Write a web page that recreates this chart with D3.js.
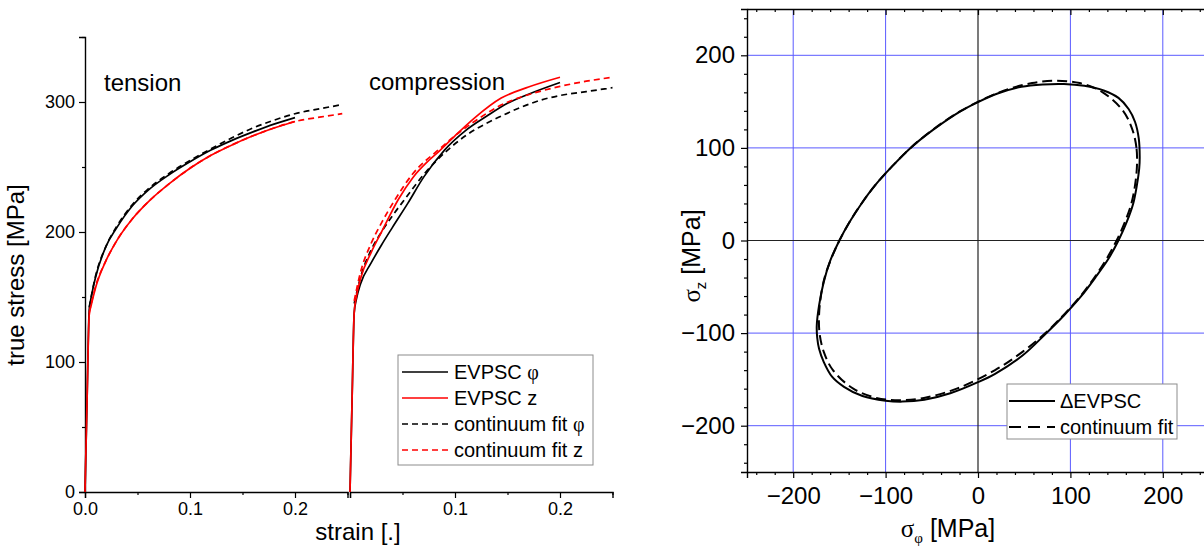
<!DOCTYPE html>
<html>
<head>
<meta charset="utf-8">
<script src="https://cdn.jsdelivr.net/npm/d3@7"></script>
<style>
  body { margin: 0; background: #fff; }
  svg { display: block; font-family: "Liberation Sans", Arial, sans-serif; }
</style>
</head>
<body>
<svg id="chart" width="1204" height="546"></svg>
<script>
// ---- left panel: stress-strain curves ----
const stressTicks = [0, 100, 200, 300];
const stressMinor = [50, 150, 250, 350];
const strainTicksT = [0, 0.1, 0.2];
const strainTicksC = [0, 0.1, 0.2];
const strainMinor = [0.05, 0.15, 0.25];

// tension
const tenStrain = [0, 0.002, 0.004, 0.006, 0.01, 0.02, 0.03, 0.045, 0.06, 0.08, 0.1, 0.12, 0.14, 0.16, 0.18, 0.2];
const tenEvpscPhi = [0, 72, 140, 150, 165, 189, 203, 220, 232, 244, 254, 263, 270.5, 277, 283, 288];
const tenEvpscZ = [0, 72, 136, 144, 157, 178, 193, 210, 223, 237, 249, 259, 267, 274, 280, 285];
const tenFitStrain = [0.004, 0.01, 0.02, 0.03, 0.045, 0.06, 0.08, 0.1, 0.12, 0.14, 0.16, 0.18, 0.2, 0.225, 0.245];
const tenFitPhi = [142, 166, 189, 204, 221, 233, 245, 255, 264, 272.5, 280, 286, 291, 295, 298];
const tenFitZ = [138, 158, 178, 193, 210, 223, 237, 249, 259, 267, 274, 280, 285, 288.5, 291];

// compression
const compStrainPhi = [0, 0.002, 0.004, 0.006, 0.01, 0.02, 0.03, 0.04, 0.055, 0.07, 0.09, 0.11, 0.13, 0.15, 0.17, 0.2];
const compEvpscPhi = [0, 72, 138, 148, 160, 176, 190, 203, 222, 242, 263, 278, 289, 299, 306, 315];
const compStrainZ = [0, 0.002, 0.004, 0.006, 0.01, 0.02, 0.03, 0.046, 0.06, 0.075, 0.086, 0.1, 0.119, 0.144, 0.17, 0.2];
const compEvpscZ = [0, 72, 138, 150, 164, 184, 200, 225, 242, 255, 263, 274, 288, 303, 311.5, 319];
const compFitStrainPhi = [0.004, 0.01, 0.02, 0.03, 0.04, 0.052, 0.07, 0.093, 0.11, 0.141, 0.16, 0.182, 0.2, 0.225, 0.25];
const compFitPhi = [145, 165, 186, 200, 212, 225, 244, 263, 274, 288, 295, 301.5, 305, 308, 311];
const compFitStrainZ = [0.004, 0.01, 0.02, 0.03, 0.043, 0.06, 0.084, 0.1, 0.124, 0.14, 0.16, 0.18, 0.2, 0.225, 0.25];
const compFitZ = [147, 169, 191, 207, 225, 245, 263, 274, 288, 296, 303, 308, 312, 316, 319];

const legendLeft = ["EVPSC φ", "EVPSC z", "continuum fit φ", "continuum fit z"];

// ---- right panel: yield locus ----
const sigTicks = [-200, -100, 0, 100, 200];
const sigGrid = [-200, -100, 100, 200];
const sigMinor = [-240, -220, -180, -160, -140, -120, -80, -60, -40, -20, 20, 40, 60, 80, 120, 140, 160, 180, 220, 240];

const evpscPhi = [175, 174, 170, 163, 152, 136, 115, 93, 70, 47, 22, 0, -20, -48, -73, -93, -111, -126, -139, -150, -160, -167, -172, -174.5, -174, -172, -167, -158, -145, -125, -100, -82, -58, -30, 0, 18.5, 48.5, 73, 93, 111, 127, 141, 152, 161, 168, 172, 174.5];
const evpscZ = [90, 110, 128, 142, 154, 162, 167, 169, 168.5, 166, 159, 149.5, 139, 120, 100, 80, 60, 40, 20, 0, -22, -45, -70, -92, -105, -117, -131, -147, -158, -168, -173, -174, -172, -165, -153, -144, -124, -101, -81, -61, -40, -20, 0, 20, 40, 60, 78];
const fitPhi = [172, 171.5, 167, 157, 135, 110, 85, 58.5, 23, -18.5, -48.5, -73, -93, -111, -126, -139, -150, -159, -166, -170, -172, -171.5, -167, -157, -135, -110, -85, -58.5, -23, 18.5, 48.5, 73, 93, 111, 126, 139, 150, 159, 166, 170];
const fitZ = [80, 100, 120, 140, 160, 170, 172.5, 170, 160, 140, 120, 100, 80, 60, 40, 20, 0, -20, -40, -60, -80, -100, -120, -140, -160, -170, -172.5, -170, -160, -140, -120, -100, -80, -60, -40, -20, 0, 20, 40, 60];

const legendRight = ["ΔEVPSC", "continuum fit"];

const font = "Liberation Sans, Arial, sans-serif";
const svg = d3.select("#chart");

function zip(a, b) { return a.map((v, i) => [v, b[i]]); }

function styleAxis(g, size) {
  g.attr("font-size", size).attr("font-family", font);
  g.selectAll("line").attr("stroke", "#000").attr("stroke-width", 1.2);
  g.selectAll("path.domain").attr("stroke", "#000").attr("stroke-width", 1.4);
  g.selectAll("text").attr("fill", "#000");
}

// ===== left panel =====
const y = d3.scaleLinear().domain([0, 350]).range([492, 37]);
const xT = d3.scaleLinear().domain([0, 0.25]).range([85, 347.5]);
const xC = d3.scaleLinear().domain([0, 0.25]).range([350, 612.5]);

svg.append("g").attr("transform", "translate(85,0)")
  .call(d3.axisLeft(y).tickValues(stressTicks).tickSize(6).tickPadding(4).tickFormat(d3.format("d")))
  .call(g => styleAxis(g, 18));
svg.append("g").attr("transform", "translate(85,0)")
  .call(d3.axisLeft(y).tickValues(stressMinor).tickSize(3).tickFormat(""))
  .call(g => styleAxis(g, 18))
  .call(g => g.select(".domain").remove());

svg.append("g").attr("transform", "translate(0,492)")
  .call(d3.axisBottom(xT).tickValues(strainTicksT).tickSize(6).tickPadding(4).tickFormat(d3.format(".1f")))
  .call(g => styleAxis(g, 18));
svg.append("g").attr("transform", "translate(0,492)")
  .call(d3.axisBottom(xT).tickValues(strainMinor).tickSize(3).tickFormat(""))
  .call(g => styleAxis(g, 18))
  .call(g => g.select(".domain").remove());
svg.append("g").attr("transform", "translate(0,492)")
  .call(d3.axisBottom(xC).tickValues(strainTicksC).tickSize(6).tickPadding(4).tickFormat(d => d === 0 ? "" : d3.format(".1f")(d)))
  .call(g => styleAxis(g, 18));
svg.append("g").attr("transform", "translate(0,492)")
  .call(d3.axisBottom(xC).tickValues(strainMinor).tickSize(3).tickFormat(""))
  .call(g => styleAxis(g, 18))
  .call(g => g.select(".domain").remove());

svg.append("text").attr("x", 358).attr("y", 540).attr("text-anchor", "middle")
  .attr("font-size", 24).text("strain [.]");
svg.append("text").attr("transform", "translate(24,275) rotate(-90)").attr("text-anchor", "middle")
  .attr("font-size", 24).text("true stress [MPa]");
svg.append("text").attr("x", 104).attr("y", 91).attr("font-size", 24).text("tension");
svg.append("text").attr("x", 369).attr("y", 90).attr("font-size", 24).text("compression");

const lineT = d3.line().x(d => xT(d[0])).y(d => y(d[1])).curve(d3.curveMonotoneX);
const lineC = d3.line().x(d => xC(d[0])).y(d => y(d[1])).curve(d3.curveMonotoneX);

const leftSeries = [
  { data: zip(tenStrain, tenEvpscPhi), line: lineT, color: "#000", dash: null },
  { data: zip(compStrainPhi, compEvpscPhi), line: lineC, color: "#000", dash: null },
  { data: zip(tenFitStrain, tenFitPhi), line: lineT, color: "#000", dash: "6,4" },
  { data: zip(compFitStrainPhi, compFitPhi), line: lineC, color: "#000", dash: "6,4" },
  { data: zip(tenStrain, tenEvpscZ), line: lineT, color: "#ff0000", dash: null },
  { data: zip(compStrainZ, compEvpscZ), line: lineC, color: "#ff0000", dash: null },
  { data: zip(tenFitStrain, tenFitZ), line: lineT, color: "#ff0000", dash: "6,4" },
  { data: zip(compFitStrainZ, compFitZ), line: lineC, color: "#ff0000", dash: "6,4" }
];
leftSeries.forEach(s => {
  svg.append("path").datum(s.data)
    .attr("fill", "none").attr("stroke", s.color).attr("stroke-width", 1.7)
    .attr("stroke-dasharray", s.dash)
    .attr("d", s.line);
});

// left legend
const legL = svg.append("g");
legL.append("rect").attr("x", 398).attr("y", 355).attr("width", 195).attr("height", 110)
  .attr("fill", "#fff").attr("stroke", "#8c8c8c").attr("stroke-width", 1);
const legColors = ["#000", "#ff0000", "#000", "#ff0000"];
const legDash = [null, null, "6,4", "6,4"];
legendLeft.forEach((t, i) => {
  const cy = 372 + i * 26;
  legL.append("line").attr("x1", 402).attr("x2", 448).attr("y1", cy).attr("y2", cy)
    .attr("stroke", legColors[i]).attr("stroke-width", 1.7).attr("stroke-dasharray", legDash[i]);
  const parts = t.split(" ");
  const last = parts.pop();
  const txt = legL.append("text").attr("x", 454).attr("y", cy + 7).attr("font-size", 20);
  txt.append("tspan").text(parts.join(" ") + " ");
  txt.append("tspan").attr("font-family", last === "φ" ? "Liberation Serif, serif" : null).text(last);
});

// ===== right panel =====
const sx = d3.scaleLinear().domain([-250, 250]).range([747, 1209]);
const sy = d3.scaleLinear().domain([-250, 250]).range([472, 9]);

const grid = svg.append("g");
sigGrid.forEach(v => {
  grid.append("line").attr("x1", sx(v)).attr("x2", sx(v)).attr("y1", sy(-250)).attr("y2", sy(250))
    .attr("stroke", "#5a5aff").attr("stroke-width", 1);
  grid.append("line").attr("x1", sx(-250)).attr("x2", sx(250)).attr("y1", sy(v)).attr("y2", sy(v))
    .attr("stroke", "#5a5aff").attr("stroke-width", 1);
});
grid.append("line").attr("x1", sx(0)).attr("x2", sx(0)).attr("y1", sy(-250)).attr("y2", sy(250))
  .attr("stroke", "#222").attr("stroke-width", 1.2);
grid.append("line").attr("x1", sx(-250)).attr("x2", sx(250)).attr("y1", sy(0)).attr("y2", sy(0))
  .attr("stroke", "#222").attr("stroke-width", 1.2);

svg.append("g").attr("transform", "translate(0,472)")
  .call(d3.axisBottom(sx).tickValues(sigTicks).tickSize(6).tickPadding(9).tickFormat(d3.format("d")))
  .call(g => styleAxis(g, 24));
svg.append("g").attr("transform", "translate(0,472)")
  .call(d3.axisBottom(sx).tickValues(sigMinor).tickSize(3).tickFormat(""))
  .call(g => styleAxis(g, 24)).call(g => g.select(".domain").remove());
svg.append("g").attr("transform", "translate(0,9)")
  .call(d3.axisTop(sx).tickValues(sigTicks).tickSizeInner(-6).tickSizeOuter(0).tickFormat(""))
  .call(g => styleAxis(g, 24));
svg.append("g").attr("transform", "translate(0,9)")
  .call(d3.axisTop(sx).tickValues(sigMinor).tickSize(-3).tickFormat(""))
  .call(g => styleAxis(g, 24)).call(g => g.select(".domain").remove());
svg.append("g").attr("transform", "translate(747,0)")
  .call(d3.axisLeft(sy).tickValues(sigTicks).tickSize(6).tickPadding(6).tickFormat(d3.format("d")))
  .call(g => styleAxis(g, 24));
svg.append("g").attr("transform", "translate(747,0)")
  .call(d3.axisLeft(sy).tickValues(sigMinor).tickSize(3).tickFormat(""))
  .call(g => styleAxis(g, 24)).call(g => g.select(".domain").remove());

const locus = d3.line().x(d => sx(d[0])).y(d => sy(d[1])).curve(d3.curveCatmullRomClosed.alpha(0.5));
svg.append("path").datum(zip(fitPhi, fitZ))
  .attr("fill", "none").attr("stroke", "#000").attr("stroke-width", 2)
  .attr("stroke-dasharray", "10,5").attr("d", locus);
svg.append("path").datum(zip(evpscPhi, evpscZ))
  .attr("fill", "none").attr("stroke", "#000").attr("stroke-width", 2)
  .attr("d", locus);

// axis titles with subscripts
const xt = svg.append("text").attr("x", 948).attr("y", 537).attr("text-anchor", "middle").attr("font-size", 25);
xt.append("tspan").attr("font-family", "Liberation Serif, serif").text("σ");
xt.append("tspan").attr("font-family", "Liberation Serif, serif").attr("font-size", 15).attr("dy", 6).text("φ");
xt.append("tspan").attr("dy", -6).text(" [MPa]");

const yt = svg.append("text").attr("transform", "translate(700,256) rotate(-90)").attr("text-anchor", "middle").attr("font-size", 25);
yt.append("tspan").attr("font-family", "Liberation Serif, serif").text("σ");
yt.append("tspan").attr("font-size", 15).attr("dy", 6).text("z");
yt.append("tspan").attr("dy", -6).text(" [MPa]");

// right legend
const legR = svg.append("g");
legR.append("rect").attr("x", 1007).attr("y", 384).attr("width", 170).attr("height", 55)
  .attr("fill", "#fff").attr("stroke", "#8c8c8c").attr("stroke-width", 1);
const legRDash = [null, "12,7"];
legendRight.forEach((t, i) => {
  const cy = 401 + i * 26;
  legR.append("line").attr("x1", 1009).attr("x2", 1055).attr("y1", cy).attr("y2", cy)
    .attr("stroke", "#000").attr("stroke-width", 2).attr("stroke-dasharray", legRDash[i]);
  legR.append("text").attr("x", 1060).attr("y", cy + 7).attr("font-size", 20).text(t);
});
</script>
</body>
</html>
